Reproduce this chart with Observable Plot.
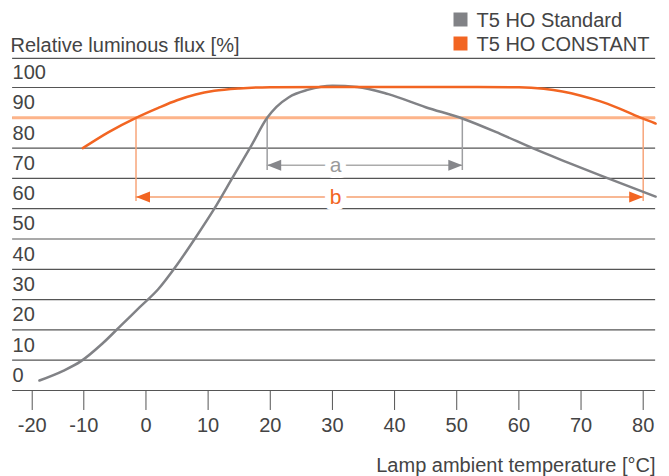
<!DOCTYPE html>
<html><head><meta charset="utf-8">
<script src="https://cdn.jsdelivr.net/npm/d3@7"></script>
<script src="https://cdn.jsdelivr.net/npm/@observablehq/plot@0.6"></script>
<style>
body{margin:0;background:#fff}
svg{display:block}
</style>
</head><body><div id="chart"></div>
<script>
// ---- data ----
const xTicks = [-20, -10, 0, 10, 20, 30, 40, 50, 60, 70, 80];
const yTicks = [0, 10, 20, 30, 40, 50, 60, 70, 80, 90, 100];

const grayT = [-18.6, -14, -10.6, -7, -4, -1, 2, 5, 8, 11, 14, 17, 19.5, 21, 23, 26, 30, 34, 39, 45, 51, 57, 62.4, 67.8, 73.1, 82];
const grayV = [3.3, 6.5, 9.6, 15.5, 21.5, 27.5, 33.5, 41.5, 50.5, 60, 70.5, 81, 90, 93.6, 96.8, 99.2, 100.6, 100.2, 97.8, 93.5, 89.7, 84.7, 79.8, 75.3, 71, 64];

const orangeT = [-10.2, -6, -1.6, 2, 5, 8, 11, 15, 20, 30, 50, 60, 64, 67, 70, 73, 76, 80, 82];
const orangeV = [80, 85.3, 90, 93.3, 95.8, 97.7, 98.9, 99.7, 100.1, 100.2, 100.2, 100.1, 99.6, 98.7, 97.3, 95.5, 93.2, 89.7, 88.1];

const seriesNames = ["T5 HO Standard", "T5 HO CONSTANT"];
const seriesColors = ["#818286", "#f26522"];

const threshold = 90;
const aRange = [19.5, 50.9];   // span "a" (Standard >= 90 %)
const bRange = [-1.6, 80];     // span "b" (CONSTANT >= 90 %)
const aLevel = 74.3, bLevel = 63.9;
const aBottom = 72.6, bBottom = 62.4;
const xMin = -23.8, xMax = 82;
const topLine = 109.6;
const tickEnd = -6.6;

// ---- build ----
const gray = grayT.map((t, i) => ({t, v: grayV[i]}));
const orange = orangeT.map((t, i) => ({t, v: orangeV[i]}));

const headRight = {draw(ctx){ ctx.moveTo(0,0); ctx.lineTo(-14,-5.5); ctx.lineTo(-14,5.5); ctx.closePath(); }};
const headLeft  = {draw(ctx){ ctx.moveTo(0,0); ctx.lineTo(14,-5.5); ctx.lineTo(14,5.5); ctx.closePath(); }};
const square = {draw(ctx){ ctx.rect(-7,-7,14,14); }};

const gridColor = "#555";
const textColor = "#444";
const fs = 20;
// the axis below -10 is drawn compressed in the original
const squeeze = t => t < -10 ? -10 + (t + 10) * 0.83 : t;

const chart = Plot.plot({
  width: 669, height: 476, margin: 0,
  style: {fontFamily: "'Liberation Sans', Arial, sans-serif", fontSize: fs + "px", color: textColor, background: "white"},
  x: {domain: [-10, 80], range: [83.3, 642.7], transform: squeeze, axis: null},
  y: {domain: [0, 100], range: [390, 87], axis: null},
  marks: [
    Plot.ruleY(yTicks, {x1: xMin, x2: xMax, stroke: gridColor, strokeWidth: 1.2}),
    Plot.ruleY([topLine], {x1: xMin, x2: xMax, stroke: gridColor, strokeWidth: 1.2}),
    Plot.ruleY([threshold], {x1: xMin, x2: xMax, stroke: "#fdb48a", strokeWidth: 3}),
    Plot.ruleX(xTicks, {y1: 0, y2: tickEnd, stroke: gridColor, strokeWidth: 1}),
    Plot.text(xTicks, {x: d => d, y: 0, dy: 35, text: d => String(d), fill: textColor, fontSize: fs}),
    Plot.text(yTicks, {x: xMin, y: d => d, dy: -15, text: d => String(d), textAnchor: "start", fill: textColor, fontSize: fs}),
    // annotation a
    Plot.ruleX(aRange, {y1: threshold, y2: aBottom, stroke: "#9d9ea1", strokeWidth: 1.5}),
    Plot.ruleY([aLevel], {x1: aRange[0], x2: aRange[1], stroke: "#ababab", strokeWidth: 1.5}),
    Plot.dot([aRange[0]], {x: d => d, y: aLevel, symbol: headLeft, fill: "#86878b", stroke: null}),
    Plot.dot([aRange[1]], {x: d => d, y: aLevel, symbol: headRight, fill: "#86878b", stroke: null}),
    Plot.text(["a"], {x: 30.5, y: aLevel, text: d => d, fill: "#9a9a9a", stroke: "white", strokeWidth: 12, fontSize: 21}),
    // annotation b
    Plot.ruleX(bRange, {y1: threshold, y2: bBottom, stroke: "#f7a57a", strokeWidth: 1.5}),
    Plot.ruleY([bLevel], {x1: bRange[0], x2: bRange[1], stroke: "#f6a070", strokeWidth: 1.5}),
    Plot.dot([bRange[0]], {x: d => d, y: bLevel, symbol: headLeft, fill: "#f26522", stroke: null}),
    Plot.dot([bRange[1]], {x: d => d, y: bLevel, symbol: headRight, fill: "#f26522", stroke: null}),
    Plot.text(["b"], {x: 30.5, y: bLevel, text: d => d, fill: "#f26522", stroke: "white", strokeWidth: 12, fontSize: 21}),
    // curves
    Plot.line(gray, {x: "t", y: "v", stroke: seriesColors[0], strokeWidth: 2.5, curve: "monotone-x"}),
    Plot.line(orange, {x: "t", y: "v", stroke: seriesColors[1], strokeWidth: 2.5, curve: "monotone-x"}),
    // legend
    Plot.dot([seriesNames[0]], {frameAnchor: "top-left", dx: 460, dy: 19, symbol: square, fill: seriesColors[0], stroke: null}),
    Plot.dot([seriesNames[1]], {frameAnchor: "top-left", dx: 460, dy: 43, symbol: square, fill: seriesColors[1], stroke: null}),
    Plot.text([seriesNames[0]], {frameAnchor: "top-left", dx: 476, dy: 20, textAnchor: "start", lineAnchor: "middle", fill: textColor, fontSize: fs}),
    Plot.text([seriesNames[1]], {frameAnchor: "top-left", dx: 476, dy: 44, textAnchor: "start", lineAnchor: "middle", fill: textColor, fontSize: fs}),
    // titles
    Plot.text(["Relative luminous flux [%]"], {frameAnchor: "top-left", dx: 10, dy: 45, textAnchor: "start", lineAnchor: "middle", fill: textColor, fontSize: fs}),
    Plot.text(["Lamp ambient temperature [°C]"], {frameAnchor: "top-left", dx: 655, dy: 465, textAnchor: "end", lineAnchor: "middle", fill: textColor, fontSize: fs})
  ]
});

document.getElementById("chart").append(chart);
</script>
</body></html>
